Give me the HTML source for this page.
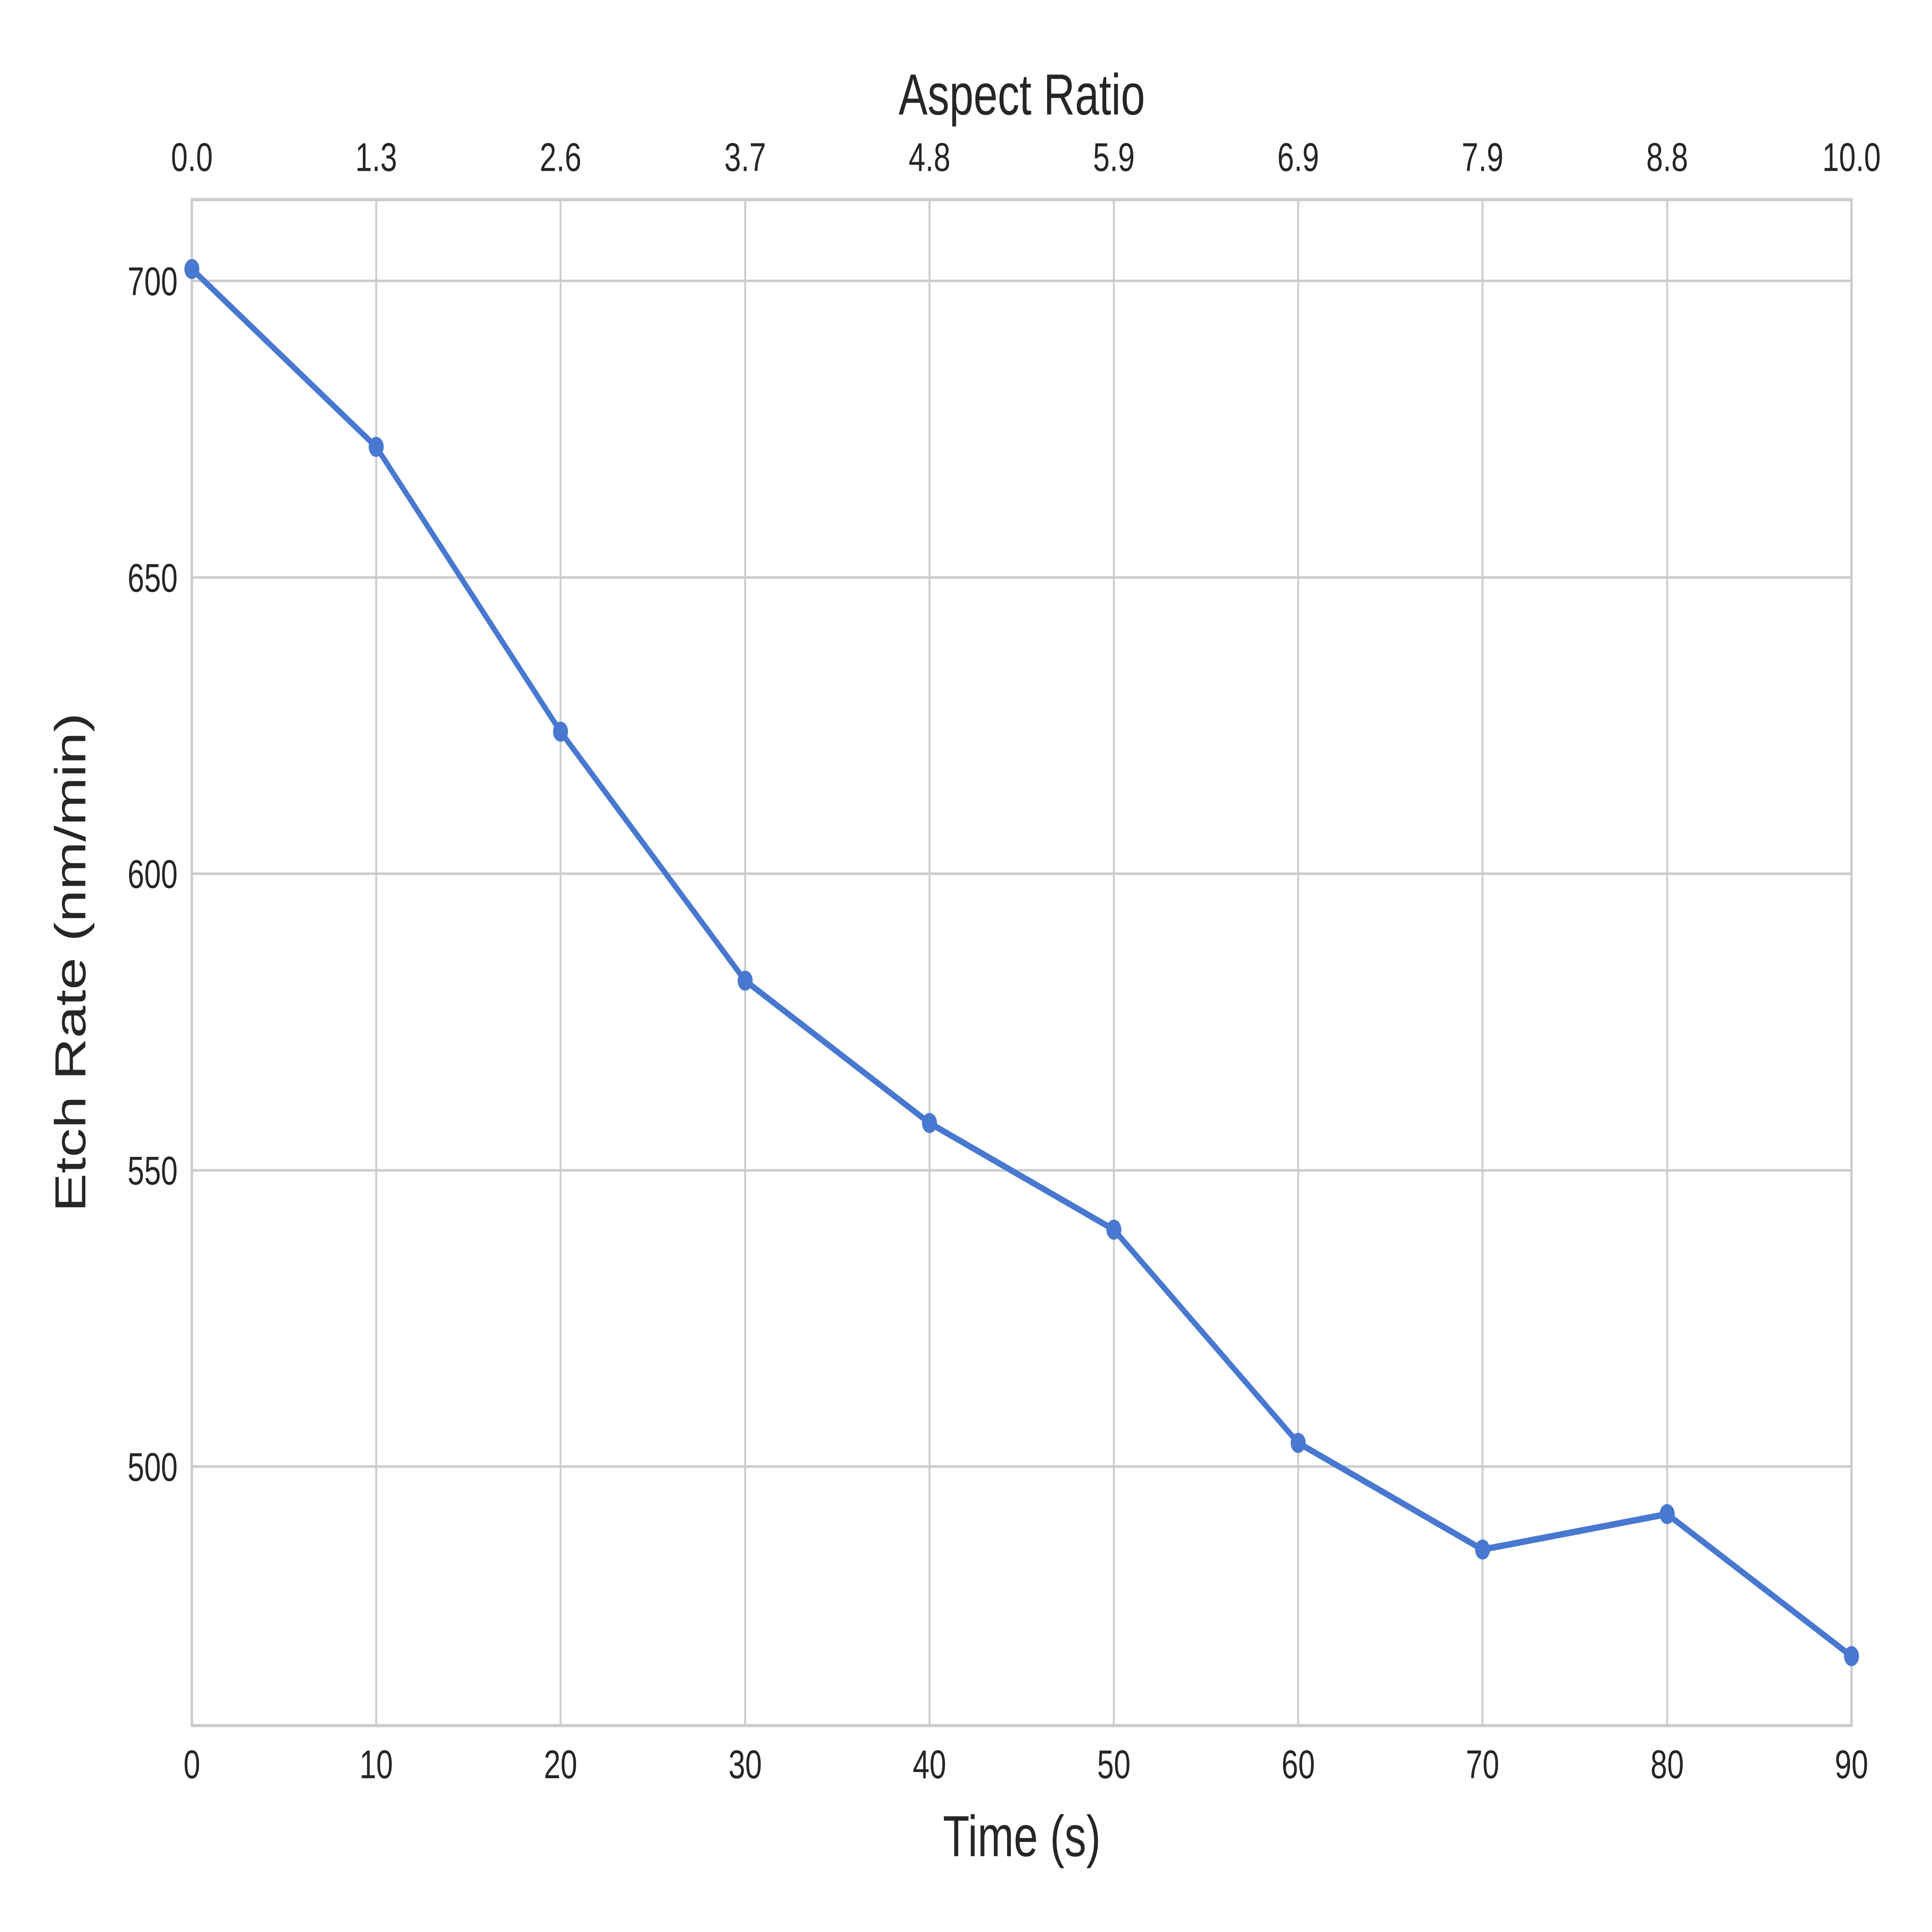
<!DOCTYPE html>
<html><head><meta charset="utf-8"><style>
html,body{margin:0;padding:0;background:#fff;width:100%;height:100%;overflow:hidden;}
svg{display:block;width:100vw;height:100vh;}
text{font-family:"Liberation Sans",sans-serif;fill:#262626;}
</style></head><body>
<svg viewBox="0 0 7200 5400" preserveAspectRatio="none" xmlns="http://www.w3.org/2000/svg">
<rect width="7200" height="5400" fill="#fff"/>
<g stroke="#cccccc" stroke-width="7">
<line x1="1402" y1="558" x2="1402" y2="4823"/>
<line x1="2089" y1="558" x2="2089" y2="4823"/>
<line x1="2777" y1="558" x2="2777" y2="4823"/>
<line x1="3464" y1="558" x2="3464" y2="4823"/>
<line x1="4151" y1="558" x2="4151" y2="4823"/>
<line x1="4838" y1="558" x2="4838" y2="4823"/>
<line x1="5525" y1="558" x2="5525" y2="4823"/>
<line x1="6213" y1="558" x2="6213" y2="4823"/>
<line x1="715" y1="785" x2="6900" y2="785"/>
<line x1="715" y1="1614" x2="6900" y2="1614"/>
<line x1="715" y1="2442" x2="6900" y2="2442"/>
<line x1="715" y1="3271" x2="6900" y2="3271"/>
<line x1="715" y1="4099" x2="6900" y2="4099"/>
</g>
<rect x="715" y="558" width="6185" height="4265" fill="none" stroke="#cccccc" stroke-width="9"/>
<polyline fill="none" stroke="#4878d0" stroke-width="18" stroke-linejoin="round" points="715,752 1402,1249 2089,2045 2777,2741 3464,3139 4151,3437 4838,4033 5525,4331 6213,4232 6900,4629"/>
<g fill="#4878d0">
<circle cx="715" cy="752" r="28"/><circle cx="1402" cy="1249" r="28"/><circle cx="2089" cy="2045" r="28"/><circle cx="2777" cy="2741" r="28"/><circle cx="3464" cy="3139" r="28"/><circle cx="4151" cy="3437" r="28"/><circle cx="4838" cy="4033" r="28"/><circle cx="5525" cy="4331" r="28"/><circle cx="6213" cy="4232" r="28"/><circle cx="6900" cy="4629" r="28"/>
</g>
<g font-size="112" text-anchor="middle">
<text x="715" y="4970">0</text><text x="1402" y="4970">10</text><text x="2089" y="4970">20</text><text x="2777" y="4970">30</text><text x="3464" y="4970">40</text><text x="4151" y="4970">50</text><text x="4838" y="4970">60</text><text x="5525" y="4970">70</text><text x="6213" y="4970">80</text><text x="6900" y="4970">90</text>
<text x="715" y="478">0.0</text><text x="1402" y="478">1.3</text><text x="2089" y="478">2.6</text><text x="2777" y="478">3.7</text><text x="3464" y="478">4.8</text><text x="4151" y="478">5.9</text><text x="4838" y="478">6.9</text><text x="5525" y="478">7.9</text><text x="6213" y="478">8.8</text><text x="6900" y="478">10.0</text>
</g>
<g font-size="112" text-anchor="end">
<text x="662" y="825">700</text><text x="662" y="1654">650</text><text x="662" y="2482">600</text><text x="662" y="3311">550</text><text x="662" y="4139">500</text>
</g>
<g font-size="162" text-anchor="middle">
<text x="3808" y="5188">Time (s)</text>
<text x="3808" y="320">Aspect Ratio</text>
<text x="0" y="0" transform="translate(318,2690) rotate(-90)">Etch Rate (nm/min)</text>
</g>
</svg>
</body></html>
